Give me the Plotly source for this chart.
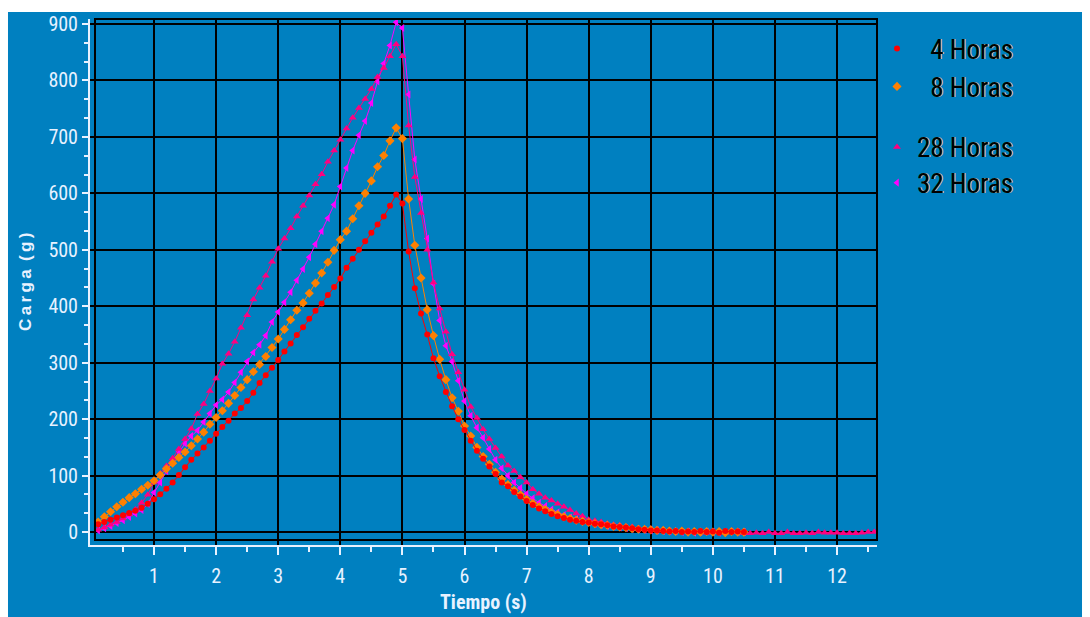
import plotly.graph_objects as go

tiempo = [0.1, 0.2, 0.3, 0.4, 0.5, 0.6, 0.7, 0.8, 0.9, 1.0,
          1.1, 1.2, 1.3, 1.4, 1.5, 1.6, 1.7, 1.8, 1.9, 2.0,
          2.1, 2.2, 2.3, 2.4, 2.5, 2.6, 2.7, 2.8, 2.9, 3.0,
          3.1, 3.2, 3.3, 3.4, 3.5, 3.6, 3.7, 3.8, 3.9, 4.0,
          4.1, 4.2, 4.3, 4.4, 4.5, 4.6, 4.7, 4.8, 4.9, 5.0,
          5.1, 5.2, 5.3, 5.4, 5.5, 5.6, 5.7, 5.8, 5.9, 6.0,
          6.1, 6.2, 6.3, 6.4, 6.5, 6.6, 6.7, 6.8, 6.9, 7.0,
          7.1, 7.2, 7.3, 7.4, 7.5, 7.6, 7.7, 7.8, 7.9, 8.0,
          8.1, 8.2, 8.3, 8.4, 8.5, 8.6, 8.7, 8.8, 8.9, 9.0,
          9.1, 9.2, 9.3, 9.4, 9.5, 9.6, 9.7, 9.8, 9.9, 10.0,
          10.1, 10.2, 10.3, 10.4, 10.5]

tiempo_28 = tiempo + [10.6, 10.7, 10.8, 10.9, 11.0, 11.1, 11.2, 11.3, 11.4, 11.5,
                      11.6, 11.7, 11.8, 11.9, 12.0, 12.1, 12.2, 12.3, 12.4, 12.5, 12.6]

carga_4h = [14, 18, 22, 26, 30, 34, 38, 43, 50, 58,
            67, 77, 88, 101, 115, 128, 139, 150, 162, 174,
            186, 197, 210, 220, 232, 247, 264, 278, 291, 305,
            320, 334, 349, 363, 378, 392, 405, 420, 434, 449,
            468, 484, 500, 515, 530, 545, 559, 578, 598, 582,
            497, 432, 387, 350, 308, 276, 248, 223, 200, 181,
            162, 144, 130, 116, 103, 88, 81, 71, 63, 55,
            48, 42, 37, 32, 28, 25, 22, 20, 18, 17,
            15, 14, 12, 10, 9, 8, 7, 5, 4, 3,
            3, 2, 1, 2, 0, 1, 0, 2, 0, 1,
            -1, 2, 0, 1, 0]

carga_8h = [18, 27, 36, 45, 53, 61, 68, 76, 83, 91,
            101, 112, 122, 132, 142, 153, 165, 177, 191, 203,
            215, 228, 242, 256, 270, 284, 297, 311, 327, 342,
            359, 376, 393, 406, 423, 441, 459, 478, 499, 518,
            533, 555, 578, 600, 622, 647, 667, 693, 716, 697,
            590, 508, 450, 394, 348, 306, 270, 238, 214, 188,
            170, 150, 134, 120, 106, 94, 84, 74, 66, 58,
            51, 45, 40, 35, 31, 27, 24, 21, 19, 17,
            15, 13, 12, 10, 9, 8, 6, 5, 5, 4,
            3, 3, 2, 1, 2, 0, 1, 0, 1, 0,
            1, -1, 1, 0, 0]

carga_28h = [4, 8, 13, 18, 24, 31, 40, 52, 66, 88,
             104, 117, 131, 147, 165, 183, 209, 227, 250, 272,
             298, 316, 337, 362, 384, 412, 433, 454, 479, 502,
             520, 538, 559, 578, 596, 616, 634, 656, 676, 695,
             715, 734, 751, 767, 785, 806, 822, 843, 864, 843,
             720, 629, 565, 500, 442, 396, 355, 315, 283, 252,
             222, 202, 182, 165, 149, 134, 118, 108, 97, 88,
             76, 68, 61, 56, 50, 45, 39, 33, 28, 22,
             20, 18, 15, 13, 12, 10, 9, 7, 6, 6,
             4, 4, 3, 2, 2, 1, 0, 1, -1, 0,
             1, -1, 0, 1, -2, -2, -1, -2, 0, -2,
             -2, 0, -2, -2, -1, -2, 0, -1, -1, -1,
             -2, -2, -2, -1, 0, 0]

carga_32h = [3, 7, 11, 16, 21, 27, 33, 39, 50, 70,
             88, 108, 125, 142, 157, 170, 180, 195, 210, 225,
             235, 248, 265, 283, 302, 318, 332, 348, 372, 390,
             407, 425, 446, 466, 487, 510, 533, 556, 580, 612,
             645, 676, 703, 728, 760, 798, 830, 862, 903, 893,
             775, 660, 590, 520, 440, 375, 330, 302, 268, 232,
             206, 185, 167, 147, 128, 113, 100, 88, 78, 68,
             60, 52, 46, 40, 35, 30, 26, 23, 20, 17,
             15, 13, 11, 10, 8, 7, 6, 5, 4, 3,
             3, 2, 1, 1, 0, 1, -1, 0, 1, 0,
             -1, 0, 1, 0, 0]

series_nombres = ["\u20074 Horas", "\u20078 Horas", "28 Horas", "32 Horas"]
x_ticks = [1, 2, 3, 4, 5, 6, 7, 8, 9, 10, 11, 12]
x_minor = [0.5, 1.5, 2.5, 3.5, 4.5, 5.5, 6.5, 7.5, 8.5, 9.5, 10.5, 11.5, 12.5]
y_ticks = [0, 100, 200, 300, 400, 500, 600, 700, 800, 900]

BG = "#0080C0"
TXT = "#E8F2FF"
NARROW = "Roboto Condensed, Liberation Sans Narrow, Arial Narrow, Liberation Sans, Arial, sans-serif"

estilos = [
    dict(color="#FF0000", symbol="circle", size=6),
    dict(color="#FF8000", symbol="diamond", size=7),
    dict(color="#FF0080", symbol="triangle-up", size=7),
    dict(color="#FF00FF", symbol="triangle-left", size=7),
]
datos = [(tiempo, carga_4h), (tiempo, carga_8h), (tiempo_28, carga_28h), (tiempo, carga_32h)]
legends = ["legend", "legend2", "legend3", "legend4"]

fig = go.Figure()
for idx in [3, 2, 1, 0]:
    xs, ys = datos[idx]
    st = estilos[idx]
    fig.add_trace(go.Scatter(
        x=xs, y=ys, mode="lines+markers", name=series_nombres[idx],
        line=dict(color=st["color"], width=1),
        marker=dict(color=st["color"], symbol=st["symbol"], size=st["size"]),
        showlegend=False, hoverinfo="skip"))

for idx in range(4):
    st = estilos[idx]
    fig.add_trace(go.Scatter(
        x=[None], y=[None], mode="markers", name=series_nombres[idx],
        marker=dict(color=st["color"], symbol=st["symbol"], size=st["size"]),
        legend=legends[idx], showlegend=True))

leg_y = [0.943, 0.871, 0.756, 0.688]
leg_common = dict(x=1.0, xanchor="left", yanchor="middle", bgcolor="rgba(0,0,0,0)",
                  itemwidth=30,
                  font=dict(family=NARROW, size=27, color="#000000",
                            shadow="1px 0px 0px #e8c890"))
legend_layout = {}
for i, name in enumerate(legends):
    legend_layout[name] = dict(leg_common, y=leg_y[i])

white_border = dict(type="rect", xref="paper", yref="paper", line=dict(width=0),
                    fillcolor="#FFFFFF", layer="below")

fig.update_layout(
    width=1090, height=617,
    margin=dict(l=90, r=213, t=15, b=72),
    paper_bgcolor=BG, plot_bgcolor=BG,
    **legend_layout,
    xaxis=dict(
        range=[-0.031, 12.643], tickmode="array", tickvals=x_ticks,
        ticktext=[str(v) for v in x_ticks],
        showgrid=True, gridcolor="#000000", gridwidth=2,
        zeroline=False, showline=True, linecolor=TXT, linewidth=2,
        ticks="outside", ticklen=8, tickwidth=1.5, tickcolor=TXT,
        ticklabelstandoff=4,
        minor=dict(tickvals=x_minor, ticks="outside", ticklen=5, tickwidth=1.5,
                   tickcolor=TXT, showgrid=False),
        tickfont=dict(family=NARROW, size=20, color=TXT),
    ),
    yaxis=dict(
        range=[-22.85, 908.8], tickmode="array", tickvals=y_ticks,
        ticktext=[str(v) for v in y_ticks],
        showgrid=True, gridcolor="#000000", gridwidth=2,
        zeroline=False, showline=True, linecolor=TXT, linewidth=2,
        ticks="outside", ticklen=6, tickwidth=1.5, tickcolor=TXT,
        minor=dict(dtick=100 / 3, tick0=0, ticks="outside", ticklen=4,
                   tickwidth=1.5, tickcolor=TXT, showgrid=False),
        tickfont=dict(family=NARROW, size=20, color=TXT),
    ),
    shapes=[
        dict(white_border, x0=-0.2, x1=1.4, y0=1.0132, y1=1.1),
        dict(white_border, x0=-0.2, x1=-0.1042, y0=-0.2, y1=1.1),
        dict(white_border, x0=1.2605, x1=1.4, y0=-0.2, y1=1.1),
        dict(type="rect", xref="paper", yref="paper",
             x0=0.00635, y0=0.0094, x1=1.0, y1=1.0,
             line=dict(color="#000000", width=2), fillcolor="rgba(0,0,0,0)",
             layer="above"),
    ],
    annotations=[
        dict(text="<b>Tiempo (s)</b>", xref="paper", yref="paper", x=0.5, y=-0.1075,
             xanchor="center", yanchor="middle", showarrow=False,
             font=dict(family=NARROW, size=20, color=TXT)),
        dict(text="<b>C\u2009a\u2009r\u2009g\u2009a\u2009 (\u2009g\u2009)</b>",
             xref="paper", yref="paper", x=-0.0826, y=0.5,
             xanchor="center", yanchor="middle", showarrow=False, textangle=-90,
             font=dict(family="Liberation Sans, Arial, sans-serif", size=17, color=TXT)),
    ],
)

fig.write_html("out.html", config={"displayModeBar": False},
               post_script="document.body.style.margin='0px';document.body.style.overflow='hidden';")
